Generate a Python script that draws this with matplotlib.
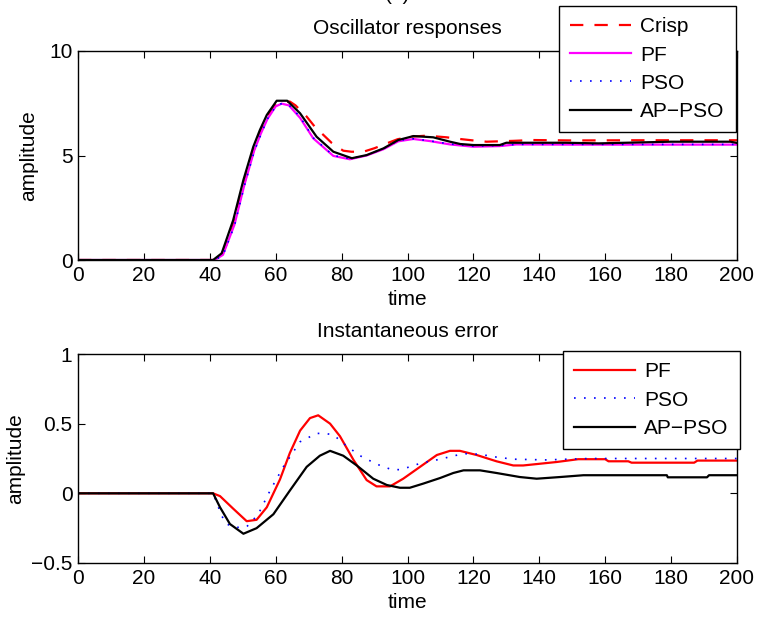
import matplotlib
matplotlib.use("Agg")
import matplotlib.pyplot as plt

plt.rcParams['font.family'] = ['Liberation Sans', 'DejaVu Sans']

# ---- data: top panel (oscillator responses) ----
t_crisp = [0, 41, 43, 45, 47, 50, 53, 55, 57, 60, 62, 64.3, 66, 69.4, 72, 74.5, 77, 80.5, 83,
           86.6, 90, 93.7, 97, 101, 105.8, 111.9, 115.9, 120, 124, 132, 138, 150, 170, 200]
v_crisp = [0, 0, 0.1, 0.7, 1.6, 3.4, 5.1, 6.0, 6.8, 7.4, 7.55, 7.58, 7.4, 6.86, 6.35, 5.98, 5.6,
           5.23, 5.18, 5.18, 5.35, 5.58, 5.78, 5.9, 5.95, 5.87, 5.79, 5.72, 5.66, 5.7, 5.74, 5.72,
           5.73, 5.73]

t_pf = [0, 41.5, 44, 47.5, 50.5, 53.5, 55.5, 57.5, 60, 61.8, 64, 67.4, 71.4, 77.5, 82.5, 87.6,
        92.7, 97.2, 101.8, 106.8, 112.9, 120, 128, 133, 150, 200]
v_pf = [0, 0, 0.25, 1.7, 3.6, 5.25, 6.05, 6.75, 7.35, 7.48, 7.4, 6.8, 5.82, 4.98, 4.82, 5.0,
        5.3, 5.68, 5.79, 5.69, 5.53, 5.42, 5.45, 5.53, 5.52, 5.52]

t_pso = [0, 41.5, 44, 47.5, 50.5, 53.5, 55.5, 57.5, 60, 62, 64, 67.4, 71.4, 77.5, 82.5, 87.6,
         92.7, 97.2, 101.8, 106.8, 112.9, 120, 128, 133, 150, 200]
v_pso = [0, 0, 0.22, 1.65, 3.55, 5.2, 6.0, 6.75, 7.35, 7.5, 7.42, 6.85, 5.85, 5.0, 4.85, 5.02,
         5.33, 5.72, 5.8, 5.7, 5.55, 5.45, 5.48, 5.53, 5.53, 5.53]

t_ap = [0, 41, 43.6, 47.1, 50.2, 53.2, 55.2, 57.3, 60.3, 63.5, 67.4, 72.4, 77.5, 83.1, 87.6,
        92.7, 97.2, 101.8, 107.8, 112.9, 116, 120, 128, 130, 148, 158, 180, 198, 200]
v_ap = [0, 0, 0.32, 1.91, 3.83, 5.42, 6.22, 6.94, 7.62, 7.62, 7.02, 5.9, 5.18, 4.87, 5.02,
        5.34, 5.74, 5.93, 5.87, 5.66, 5.55, 5.5, 5.5, 5.61, 5.61, 5.58, 5.66, 5.66, 5.6]

# ---- data: bottom panel (instantaneous error) ----
te_pf = [0, 41, 43.1, 47.1, 51.2, 54.2, 57.3, 61.3, 64.3, 67.4, 70.4, 72.9, 76.5, 79.5, 83.6,
         87.6, 90.6, 94.7, 98.7, 103.8, 108.9, 112.9, 115.9, 121, 127, 132.1, 135.1, 139.2,
         145.3, 151.8, 160, 161, 167, 168, 187, 188, 200]
e_pf = [0, 0, -0.02, -0.11, -0.2, -0.19, -0.1, 0.1, 0.29, 0.45, 0.54, 0.56, 0.5, 0.41, 0.24,
        0.095, 0.05, 0.05, 0.105, 0.19, 0.275, 0.305, 0.305, 0.275, 0.23, 0.2, 0.2, 0.21,
        0.225, 0.245, 0.245, 0.23, 0.23, 0.22, 0.22, 0.235, 0.235]

te_pso = [0, 41, 43.6, 45, 48, 51.2, 54.7, 58.3, 62.3, 67.4, 72.4, 74.9, 77.5, 81.5, 85.6,
          90.6, 95.2, 97.7, 100.7, 103.8, 108.9, 117, 122, 127, 132.1, 142, 155, 200]
e_pso = [0, 0, -0.16, -0.22, -0.245, -0.24, -0.15, 0.02, 0.19, 0.37, 0.43, 0.43, 0.42, 0.34,
         0.27, 0.21, 0.17, 0.17, 0.19, 0.215, 0.24, 0.285, 0.28, 0.26, 0.245, 0.24, 0.25, 0.25]

te_ap = [0, 41, 43.1, 46.1, 50.2, 54.2, 59.3, 64.3, 69.4, 73.4, 76.5, 80.5, 84.6, 89.6, 93.7,
         97.7, 100.7, 104.8, 109.9, 113.9, 117, 122, 127, 134.1, 139.2, 146.3, 153.4, 178.7,
         179, 190.9, 191.5, 200]
e_ap = [0, 0, -0.1, -0.22, -0.29, -0.25, -0.15, 0.02, 0.19, 0.27, 0.305, 0.27, 0.2, 0.105,
        0.06, 0.04, 0.04, 0.07, 0.11, 0.146, 0.165, 0.165, 0.146, 0.117, 0.105, 0.117, 0.13,
        0.13, 0.115, 0.115, 0.13, 0.13]

xticks = [0, 20, 40, 60, 80, 100, 120, 140, 160, 180, 200]
yticks_top = [0, 5, 10]
yticks_bot = [-0.5, 0, 0.5, 1]
ytl_bot = ['\u22120.5', '0', '0.5', '1']

FS = 15
W, H = 759, 618
fig = plt.figure(figsize=(W / 100, H / 100), dpi=100)

def style(ax):
    ax.tick_params(direction='in', length=5, width=0.8, top=True, right=True,
                   labelsize=FS, pad=4)
    for s in ax.spines.values():
        s.set_linewidth(1.0)
        s.set_color('black')

leg_kw = dict(fontsize=FS, frameon=True, fancybox=False, framealpha=1,
              edgecolor='black', borderpad=0.55, labelspacing=0.44,
              handlelength=2.9, handletextpad=0.45, borderaxespad=0)

ax1 = fig.add_axes([78 / W, 1 - 260 / H, (737 - 78) / W, (260 - 51) / H])
ax1.plot(t_crisp, v_crisp, color='#ff0000', lw=1.6, linestyle=(0, (6, 5)), label='Crisp')
ax1.plot(t_pf, v_pf, color='#ff00ff', lw=1.6, label='PF')
ax1.plot(t_pso, v_pso, color='#0000ff', lw=1.2, linestyle=(0, (1, 5)), label='PSO')
ax1.plot(t_ap, v_ap, color='black', lw=1.6, label='AP\u2212PSO')
ax1.set_xlim(0, 200)
ax1.set_ylim(0, 10)
ax1.set_xticks(xticks)
ax1.set_yticks(yticks_top)
ax1.set_xlabel('time', fontsize=FS, labelpad=4)
ax1.set_ylabel('amplitude', fontsize=FS, labelpad=8)
ax1.set_title('Oscillator responses', fontsize=FS, pad=12)
style(ax1)
leg1 = ax1.legend(loc='upper left', bbox_to_anchor=(559 / W, 1 - 6 / H),
                  bbox_transform=fig.transFigure, **leg_kw)
leg1.get_frame().set_linewidth(1.0)

ax2 = fig.add_axes([78 / W, 1 - 563 / H, (737 - 78) / W, (563 - 354) / H])
ax2.plot(te_pf, e_pf, color='#ff0000', lw=1.6, label='PF')
ax2.plot(te_pso, e_pso, color='#0000ff', lw=1.2, linestyle=(0, (1, 5)), label='PSO')
ax2.plot(te_ap, e_ap, color='black', lw=1.6, label='AP\u2212PSO')
ax2.set_xlim(0, 200)
ax2.set_ylim(-0.5, 1)
ax2.set_xticks(xticks)
ax2.set_yticks(yticks_bot)
ax2.set_yticklabels(ytl_bot)
ax2.set_xlabel('time', fontsize=FS, labelpad=4)
ax2.set_ylabel('amplitude', fontsize=FS, labelpad=4)
ax2.set_title('Instantaneous error', fontsize=FS, pad=12)
style(ax2)
leg2 = ax2.legend(loc='upper left', bbox_to_anchor=(563 / W, 1 - 351 / H),
                  bbox_transform=fig.transFigure, **leg_kw)
leg2.get_frame().set_linewidth(1.0)

fig.text(398 / W, 1.0, '(a)', ha='center', va='baseline', fontsize=FS)

fig.savefig('out.png', dpi=100)
